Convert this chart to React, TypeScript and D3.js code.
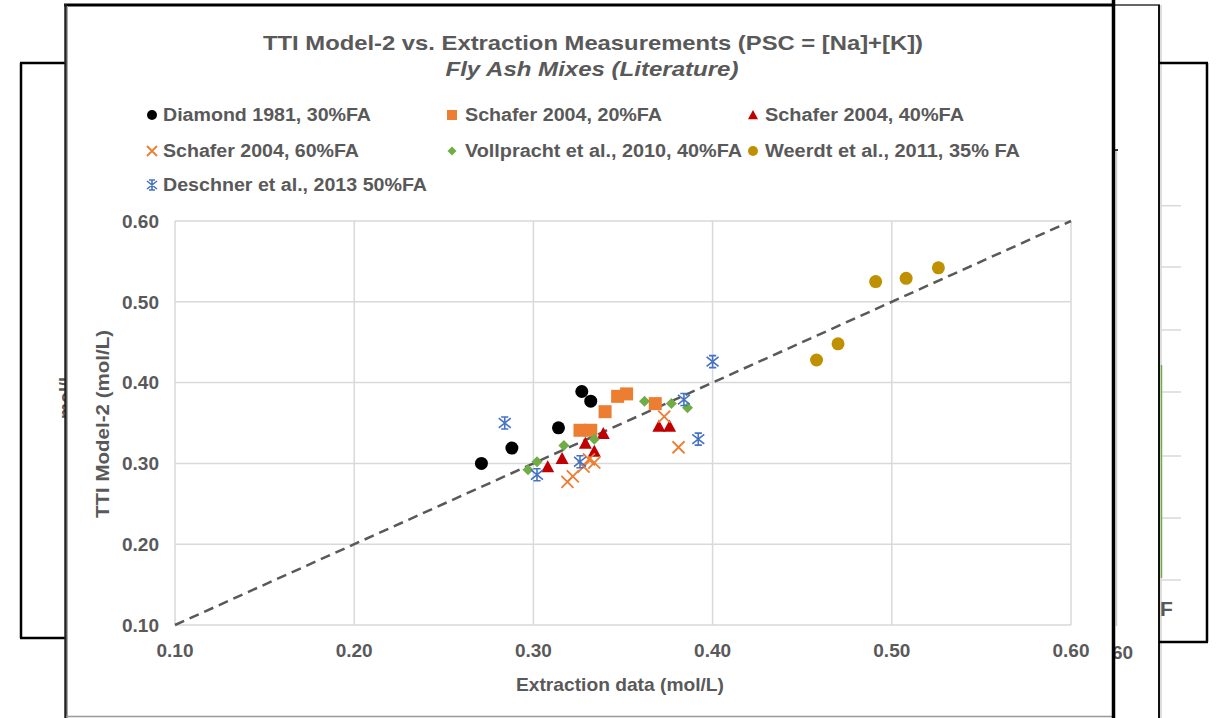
import React from "react";
import * as d3 from "d3";

// ---- data ----
const xTicks = [0.1, 0.2, 0.3, 0.4, 0.5, 0.6];
const yTicks = [0.1, 0.2, 0.3, 0.4, 0.5, 0.6];

const diamondX = [0.271, 0.288, 0.314, 0.327, 0.332];
const diamondY = [0.300, 0.319, 0.344, 0.389, 0.377];

const schafer20X = [0.326, 0.332, 0.340, 0.347, 0.352, 0.368];
const schafer20Y = [0.341, 0.341, 0.364, 0.383, 0.386, 0.374];

const schafer40X = [0.308, 0.316, 0.329, 0.334, 0.339, 0.370, 0.376];
const schafer40Y = [0.296, 0.306, 0.325, 0.315, 0.337, 0.346, 0.346];

const schafer60X = [0.319, 0.322, 0.328, 0.331, 0.334, 0.373, 0.381];
const schafer60Y = [0.277, 0.284, 0.296, 0.305, 0.301, 0.358, 0.320];

const vollX = [0.297, 0.302, 0.317, 0.334, 0.362, 0.377, 0.386];
const vollY = [0.292, 0.302, 0.322, 0.330, 0.377, 0.374, 0.369];

const weerdtX = [0.458, 0.470, 0.491, 0.508, 0.526];
const weerdtY = [0.428, 0.448, 0.525, 0.529, 0.542];

const deschnerX = [0.284, 0.302, 0.326, 0.384, 0.392, 0.400];
const deschnerY = [0.350, 0.286, 0.302, 0.379, 0.330, 0.426];

const seriesNames = [
  "Diamond 1981, 30%FA",
  "Schafer 2004, 20%FA",
  "Schafer 2004, 40%FA",
  "Schafer 2004, 60%FA",
  "Vollpracht et al., 2010, 40%FA",
  "Weerdt et al., 2011, 35% FA",
  "Deschner et al., 2013 50%FA",
];
const seriesShapes = ["circle", "square", "triangle", "x", "diamond", "circle", "star"];
const seriesColors = ["#000000", "#ED7D31", "#C00000", "#ED7D31", "#70AD47", "#BF9000", "#4472C4"];
const seriesXs = [diamondX, schafer20X, schafer40X, schafer60X, vollX, weerdtX, deschnerX];
const seriesYs = [diamondY, schafer20Y, schafer40Y, schafer60Y, vollY, weerdtY, deschnerY];

// legend layout (row, col) and measured text widths
const legendRow = [0, 0, 0, 1, 1, 1, 2];
const legendCol = [0, 1, 2, 0, 1, 2, 0];
const legendTextLen = [208, 197, 199, 196, 277, 255, 264];

const TXT = "#595959";
const FONT = "'Liberation Sans', Arial, sans-serif";

function Marker({ shape, cx, cy, s, color }: { shape: string; cx: number; cy: number; s: number; color: string }) {
  if (shape === "circle") return <circle cx={cx} cy={cy} r={s} fill={color} />;
  if (shape === "square") return <rect x={cx - s} y={cy - s} width={2 * s} height={2 * s} fill={color} />;
  if (shape === "triangle")
    return (
      <path
        d={`M${cx},${cy - s} L${cx + s},${cy + s * 0.85} L${cx - s},${cy + s * 0.85} Z`}
        fill={color}
      />
    );
  if (shape === "diamond")
    return <path d={`M${cx},${cy - s} L${cx + s},${cy} L${cx},${cy + s} L${cx - s},${cy} Z`} fill={color} />;
  if (shape === "x")
    return (
      <path
        d={`M${cx - s},${cy - s} L${cx + s},${cy + s} M${cx - s},${cy + s} L${cx + s},${cy - s}`}
        stroke={color}
        strokeWidth={1.8}
        fill="none"
      />
    );
  // star (asterisk)
  return (
    <path
      d={`M${cx - s},${cy - s * 0.8} L${cx + s},${cy + s * 0.8} M${cx - s},${cy + s * 0.8} L${cx + s},${cy - s * 0.8} M${cx},${cy - s} L${cx},${cy + s} M${cx - s * 0.6},${cy - s} L${cx + s * 0.6},${cy - s} M${cx - s * 0.6},${cy + s} L${cx + s * 0.6},${cy + s}`}
      stroke={color}
      strokeWidth={1.6}
      fill="none"
    />
  );
}

export default function App() {
  const x = d3.scaleLinear().domain([0.1, 0.6]).range([175, 1071]);
  const y = d3.scaleLinear().domain([0.1, 0.6]).range([625, 221]);
  const fmt = d3.format(".2f");
  const line = d3
    .line<number>()
    .x((d) => x(d))
    .y((d) => y(d));

  const plotSizes = [6.5, 6.5, 6.5, 6, 5.5, 6.5, 6];
  const legendSizes = [5, 5, 5, 5, 4.5, 5, 5];
  const colMarkerX = [152, 452, 753];
  const colTextX = [163, 465, 765];
  const rowY = [115, 151, 185];

  const bgGridY = [205.7, 267, 330, 392, 456, 518, 580];

  return (
    <svg
      width={1216}
      height={718}
      style={{ position: "absolute", left: 0, top: 0, display: "block", background: "#fff" }}
      fontFamily={FONT}
    >
      <rect x={0} y={0} width={1216} height={718} fill="#fff" />
      {/* ---- background screenshot frames ---- */}
      <g>
        <line x1={21} y1={63} x2={21} y2={638} stroke="#000" strokeWidth={2.5} />
        <line x1={20} y1={63} x2={66} y2={63} stroke="#000" strokeWidth={2.5} />
        <line x1={20} y1={638} x2={66} y2={638} stroke="#000" strokeWidth={2.5} />
        <text
          transform="translate(72,395) rotate(-90)"
          textAnchor="middle"
          fontSize={18}
          fontWeight="bold"
          fill={TXT}
        >
          mol/L
        </text>
        {/* middle box */}
        <line x1={1113} y1={5} x2={1160} y2={5} stroke="#333" strokeWidth={1.5} />
        <line x1={1159} y1={5} x2={1159} y2={718} stroke="#111" strokeWidth={2} />
        <line x1={1161} y1={5} x2={1161} y2={718} stroke="#bbb" strokeWidth={1} />
        <line x1={1116.5} y1={150} x2={1116.5} y2={626} stroke="#ccc" strokeWidth={1.5} />
        <line x1={1113} y1={150} x2={1118} y2={150} stroke="#000" strokeWidth={1.5} />
        <text x={1112} y={659} fontSize={19} fontWeight="bold" fill={TXT}>
          60
        </text>
        {/* right box */}
        <line x1={1159} y1={63} x2={1208} y2={63} stroke="#000" strokeWidth={2.5} />
        <line x1={1207} y1={63} x2={1207} y2={642} stroke="#000" strokeWidth={2.5} />
        <line x1={1159} y1={642} x2={1208} y2={642} stroke="#000" strokeWidth={2.5} />
        {bgGridY.map((gy, i) => (
          <line key={i} x1={1161} y1={gy} x2={1181} y2={gy} stroke="#d9d9d9" strokeWidth={1.5} />
        ))}
        <line x1={1161.5} y1={365} x2={1161.5} y2={578} stroke="#70AD47" strokeWidth={1.5} />
        <text x={1160} y={616} fontSize={21} fontWeight="bold" fill={TXT}>
          F
        </text>
      </g>

      {/* ---- main chart frame ---- */}
      <rect x={66} y={6} width={1046} height={712} fill="#fff" />
      <line x1={64} y1={5} x2={1115} y2={5} stroke="#000" strokeWidth={3} />
      <line x1={65.5} y1={4} x2={65.5} y2={718} stroke="#222" strokeWidth={2.5} />
      <line x1={67.5} y1={6} x2={67.5} y2={718} stroke="#aaa" strokeWidth={1} />
      <line x1={66} y1={716.5} x2={1112} y2={716.5} stroke="#999" strokeWidth={1.5} />
      <line x1={1113.5} y1={0} x2={1113.5} y2={718} stroke="#000" strokeWidth={3.5} />

      {/* title */}
      <text x={593} y={50} textAnchor="middle" fontSize={21} fontWeight="bold" fill={TXT} textLength={660} lengthAdjust="spacingAndGlyphs">
        TTI Model-2 vs. Extraction Measurements (PSC = [Na]+[K])
      </text>
      <text x={592} y={76} textAnchor="middle" fontSize={21} fontWeight="bold" fontStyle="italic" fill={TXT} textLength={293} lengthAdjust="spacingAndGlyphs">
        Fly Ash Mixes (Literature)
      </text>

      {/* legend */}
      {seriesNames.map((name, i) => (
        <g key={name}>
          <Marker
            shape={seriesShapes[i]}
            cx={colMarkerX[legendCol[i]]}
            cy={rowY[legendRow[i]]}
            s={legendSizes[i]}
            color={seriesColors[i]}
          />
          <text
            x={colTextX[legendCol[i]]}
            y={rowY[legendRow[i]]}
            dy="0.36em"
            fontSize={18}
            fontWeight="bold"
            fill={TXT}
            textLength={legendTextLen[i]}
            lengthAdjust="spacingAndGlyphs"
          >
            {name}
          </text>
        </g>
      ))}

      {/* grid */}
      {xTicks.map((t) => (
        <line key={"gx" + t} x1={x(t)} x2={x(t)} y1={y(0.6)} y2={y(0.1)} stroke="#d9d9d9" strokeWidth={1.5} />
      ))}
      {yTicks.map((t) => (
        <line key={"gy" + t} x1={x(0.1)} x2={x(0.6)} y1={y(t)} y2={y(t)} stroke="#d9d9d9" strokeWidth={1.5} />
      ))}

      {/* tick labels */}
      {yTicks.map((t) => (
        <text key={"yl" + t} x={159} y={y(t)} dy="0.36em" textAnchor="end" fontSize={19} fontWeight="bold" fill={TXT}>
          {fmt(t)}
        </text>
      ))}
      {xTicks.map((t) => (
        <text key={"xl" + t} x={x(t)} y={650} dy="0.36em" textAnchor="middle" fontSize={19} fontWeight="bold" fill={TXT}>
          {fmt(t)}
        </text>
      ))}

      {/* axis titles */}
      <text x={620} y={684} dy="0.36em" textAnchor="middle" fontSize={18.5} fontWeight="bold" fill={TXT} textLength={208} lengthAdjust="spacingAndGlyphs">
        Extraction data (mol/L)
      </text>
      <text
        transform={`translate(103,424) rotate(-90)`}
        dy="0.36em"
        textAnchor="middle"
        fontSize={18}
        fontWeight="bold"
        fill={TXT}
        textLength={188}
        lengthAdjust="spacingAndGlyphs"
      >
        TTI Model-2 (mol/L)
      </text>

      {/* 1:1 line */}
      <path d={line([0.1, 0.6]) || ""} stroke="#595959" strokeWidth={2.5} strokeDasharray="10,6" fill="none" />

      {/* points */}
      {seriesNames.map((name, i) => (
        <g key={"s" + name}>
          {seriesXs[i].map((vx, j) => (
            <Marker
              key={j}
              shape={seriesShapes[i]}
              cx={x(vx)}
              cy={y(seriesYs[i][j])}
              s={plotSizes[i]}
              color={seriesColors[i]}
            />
          ))}
        </g>
      ))}
    </svg>
  );
}
